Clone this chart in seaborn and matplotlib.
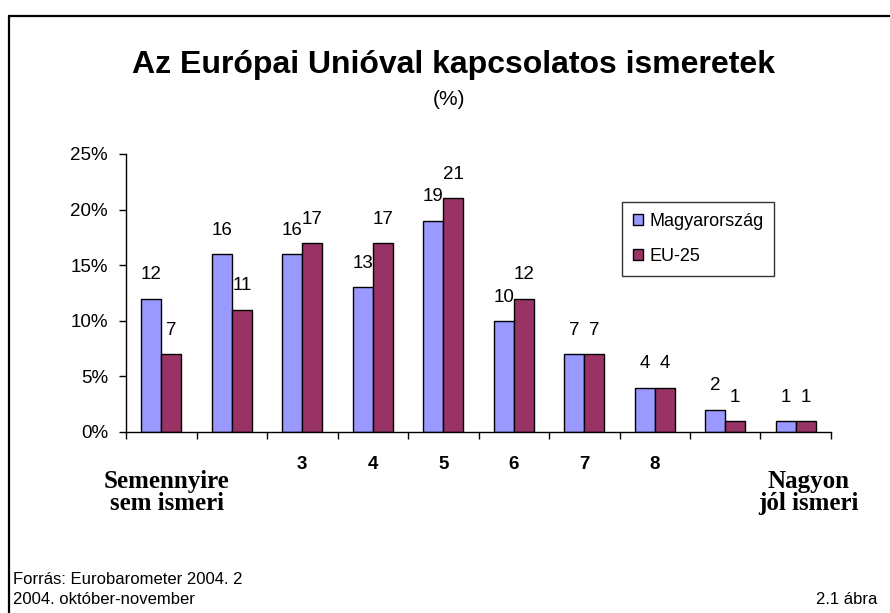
import numpy as np
import pandas as pd
import matplotlib.pyplot as plt
import seaborn as sns
from matplotlib.ticker import PercentFormatter, FixedLocator
from matplotlib.lines import Line2D

# data
categories = ['1', '2', '3', '4', '5', '6', '7', '8', '9', '10']
tickLabels = ['', '', '3', '4', '5', '6', '7', '8', '', '']
hungary = [12, 16, 16, 13, 19, 10, 7, 4, 2, 1]
eu25 = [7, 11, 17, 17, 21, 12, 7, 4, 1, 1]
seriesNames = ['Magyarország', 'EU-25']

df = pd.DataFrame({
    'category': categories * 2,
    'value': hungary + eu25,
    'series': [seriesNames[0]] * len(categories) + [seriesNames[1]] * len(categories),
})

sns.set_theme(style='white')
plt.rcParams['font.family'] = ['Liberation Sans', 'DejaVu Sans']
plt.rcParams['text.color'] = 'black'
plt.rcParams['xtick.color'] = 'black'
plt.rcParams['ytick.color'] = 'black'
plt.rcParams['axes.labelcolor'] = 'black'

fig = plt.figure(figsize=(8.9, 6.13), dpi=100)
ax = fig.add_axes([0.1416, 0.2953, 0.7921, 0.4535])

sns.barplot(data=df, x='category', y='value', hue='series', ax=ax,
            palette=['#9999FF', '#993366'], width=0.57,
            edgecolor='black', linewidth=1, saturation=1)

for cont in ax.containers:
    ax.bar_label(cont, fmt='%d', padding=11, fontsize=13.5, color='black')

ax.set_ylim(0, 25)
ax.set_xlim(-0.5, len(categories) - 0.5)
ax.yaxis.set_major_formatter(PercentFormatter(xmax=100, decimals=0))
ax.set_yticks([0, 5, 10, 15, 20, 25])
ax.tick_params(axis='y', labelsize=13.5, length=5, width=1, color='black',
               direction='out', left=True, pad=8)

ax.set_xticks(range(len(categories)))
ax.set_xticklabels(tickLabels, fontsize=13.5, fontweight='bold')
ax.tick_params(axis='x', which='major', length=0, pad=17)
ax.xaxis.set_minor_locator(FixedLocator(np.arange(-0.5, len(categories), 1)))
ax.tick_params(axis='x', which='minor', length=5, width=1, color='black',
               direction='out', bottom=True)
ax.set_xlabel('')
ax.set_ylabel('')

sns.despine(ax=ax)
for s in ['left', 'bottom']:
    ax.spines[s].set_color('black')
    ax.spines[s].set_linewidth(1)

serif = dict(family=['Liberation Serif', 'DejaVu Serif'], fontweight='bold',
             fontsize=18, ha='center', va='top', linespacing=0.95,
             transform=ax.get_xaxis_transform())
ax.text(0.08, -0.135, 'Semennyire\nsem ismeri', **serif)
ax.text(9.18, -0.135, 'Nagyon\njól ismeri', **serif)

handles, labels = ax.get_legend_handles_labels()
leg = ax.legend(handles, labels, loc='upper left', bbox_to_anchor=(0.7035, 0.827),
                fontsize=13, frameon=True, fancybox=False, edgecolor='black',
                handlelength=0.55, handleheight=0.55, handletextpad=0.35,
                labelspacing=1.0, borderpad=0.6, borderaxespad=0)
leg.get_frame().set_linewidth(1)

fig.text(0.509, 0.894, 'Az Európai Unióval kapcsolatos ismeretek', ha='center',
         va='center', fontsize=23, fontweight='bold')
fig.text(0.504, 0.837, '(%)', ha='center', va='center', fontsize=15)

fig.text(13 / 890, 1 - 579 / 613, 'Forrás: Eurobarometer 2004. 2', ha='left',
         va='center', fontsize=12)
fig.text(13 / 890, 1 - 600 / 613, '2004. október-november', ha='left',
         va='center', fontsize=12)
fig.text(877 / 890, 1 - 600 / 613, '2.1 ábra', ha='right', va='center',
         fontsize=12)

# frame around the chart area
x0, y0 = 9 / 890, 1 - 15.5 / 613
fig.add_artist(Line2D([x0, x0], [0, y0], color='black', linewidth=1.6))
fig.add_artist(Line2D([x0, 1], [y0, y0], color='black', linewidth=1.6))

fig.savefig('out.png', dpi=100)
